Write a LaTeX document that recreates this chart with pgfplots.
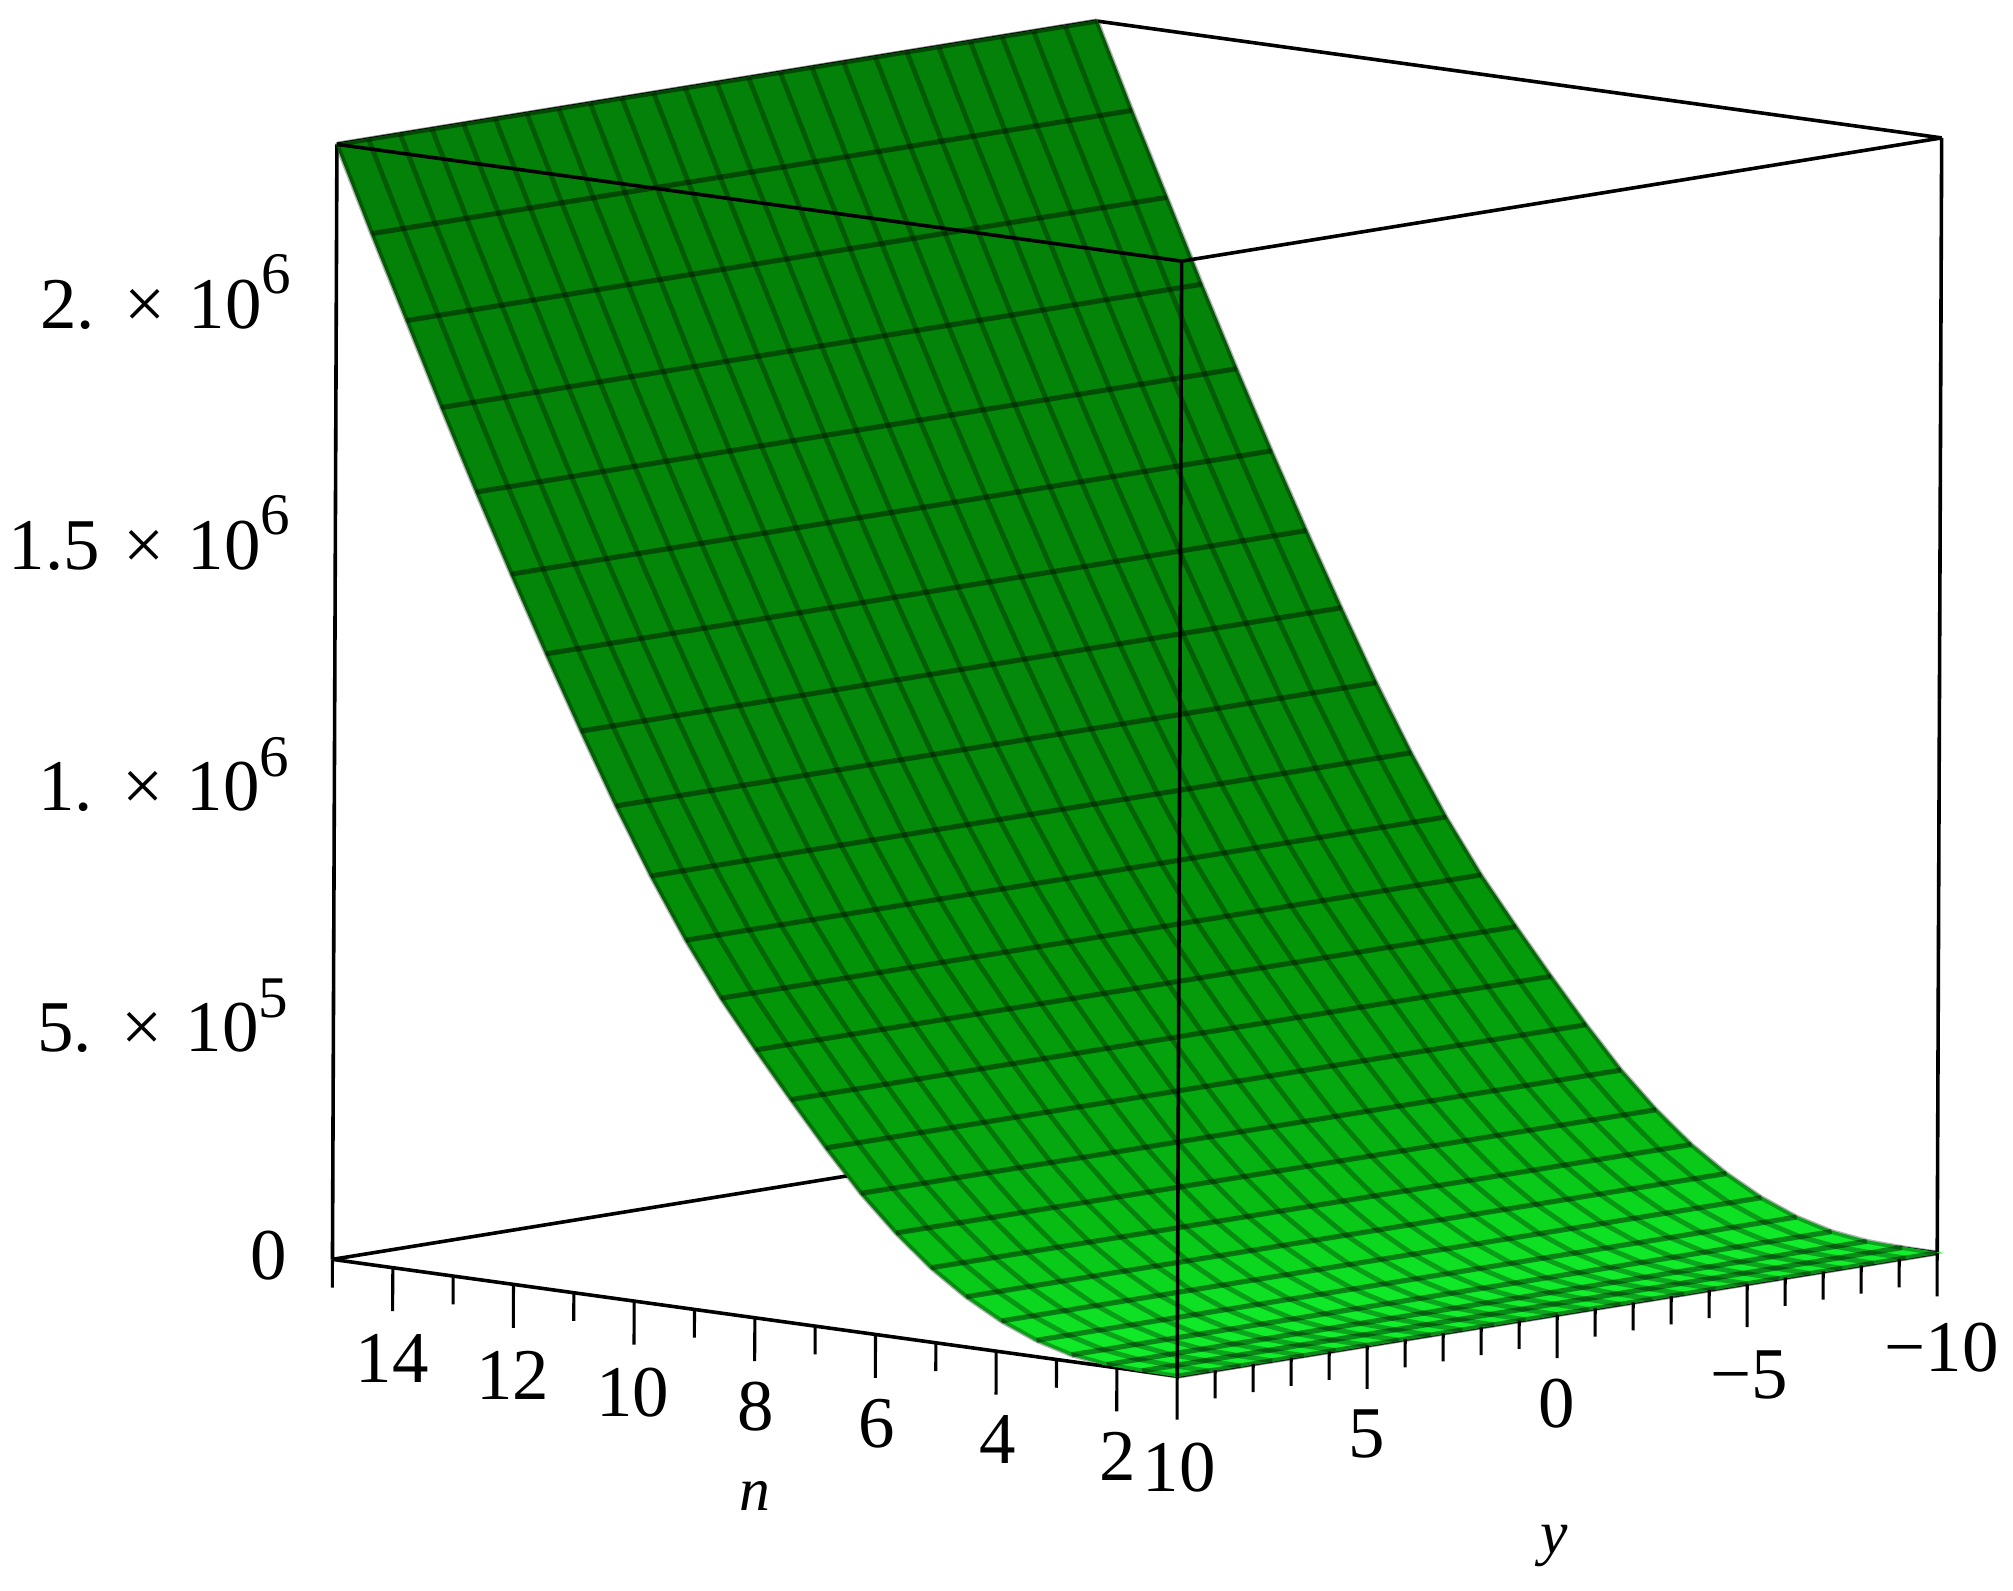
\documentclass[border=0pt]{standalone}
\usepackage{fontspec}
\setmainfont{Liberation Serif}
\usepackage{pgfplots}
\pgfplotsset{compat=1.18}
\newcommand{\tl}[1]{{\fontsize{14.2}{14.2}\selectfont #1}}
\newcommand{\zl}[2]{{\fontsize{14.2}{14.2}\selectfont #1\hspace{1pt} × \hspace{1pt}10\raisebox{6.75pt}{\fontsize{11.5}{11.5}\selectfont #2}}}
% one row of the surface: z (in millions) read at each n, repeated for every y line
\newcommand{\prof}[1]{%
1.000 #1 0.000\\ 1.583 #1 0.001\\ 2.167 #1 0.004\\ 2.750 #1 0.014\\ 3.333 #1 0.034\\
3.917 #1 0.064\\ 4.500 #1 0.104\\ 5.083 #1 0.154\\ 5.667 #1 0.216\\ 6.250 #1 0.288\\
6.833 #1 0.372\\ 7.417 #1 0.462\\ 8.000 #1 0.555\\ 8.583 #1 0.652\\ 9.167 #1 0.762\\
9.750 #1 0.885\\ 10.333 #1 1.020\\ 10.917 #1 1.165\\ 11.500 #1 1.315\\ 12.083 #1 1.470\\
12.667 #1 1.630\\ 13.250 #1 1.795\\ 13.833 #1 1.965\\ 14.417 #1 2.135\\ 15.000 #1 2.310\\}
\newcommand{\gaprow}{15 nan 2.31\\}
\newcommand{\ylist}[1]{#1{-10}#1{-9.167}#1{-8.333}#1{-7.5}#1{-6.667}#1{-5.833}#1{-5}#1{-4.167}#1{-3.333}#1{-2.5}#1{-1.667}#1{-0.833}#1{0}#1{0.833}#1{1.667}#1{2.5}#1{3.333}#1{4.167}#1{5}#1{5.833}#1{6.667}#1{7.5}#1{8.333}#1{9.167}#1{10}}
\newcommand{\profg}[1]{\prof{#1}\gaprow}
\edef\surfrows{\ylist{\prof}}
\edef\ylines{\ylist{\profg}}
\newcommand{\nl}[2]{#1 -10 #2\\ #1 10 #2\\ #1 nan #2\\}
\edef\nlines{\nl{1.000}{0.000}\nl{1.583}{0.001}\nl{2.167}{0.004}\nl{2.750}{0.014}\nl{3.333}{0.034}\nl{3.917}{0.064}\nl{4.500}{0.104}\nl{5.083}{0.154}\nl{5.667}{0.216}\nl{6.250}{0.288}\nl{6.833}{0.372}\nl{7.417}{0.462}\nl{8.000}{0.555}\nl{8.583}{0.652}\nl{9.167}{0.762}\nl{9.750}{0.885}\nl{10.333}{1.020}\nl{10.917}{1.165}\nl{11.500}{1.315}\nl{12.083}{1.470}\nl{12.667}{1.630}\nl{13.250}{1.795}\nl{13.833}{1.965}\nl{14.417}{2.135}\nl{15.000}{2.310}}
\begin{document}
\begin{tikzpicture}
\path[use as bounding box] (0,0) rectangle (392pt,309.75pt);
\begin{axis}[
  at={(303.25pt,53.75pt)},anchor=origin,
  x={(-11.75pt,1.625pt)},y={(-7.4pt,-1.2pt)},z={(0.375pt,94pt)},
  xmin=1,xmax=15,ymin=-10,ymax=10,zmin=0,zmax=2.31,
  3d box=complete,
  clip=false,
  axis line style={black,line width=0.7pt},
  tick style={draw=none},major tick length=0pt,minor tick length=0pt,
  xtick={2,4,...,14},xticklabels={\tl{2},\tl{4},\tl{6},\tl{8},\tl{10},\tl{12},\tl{14}},
  ytick={-10,-5,0,5,10},yticklabels={\tl{−10},\tl{−5},\tl{0},\tl{5},\tl{10}},
  ztick={0,0.5,1,1.5,2},zticklabels={\tl{0},\zl{5.}{5},\zl{1.}{6},\zl{1.5}{6},\zl{2.}{6}},
  xticklabel style={xshift=7.25pt,yshift=-9pt},
  yticklabel style={xshift=-7.25pt,yshift=-9pt},
  zticklabel style={xshift=-5.25pt,yshift=0.75pt},
  xlabel={\fontsize{12}{12}\selectfont\textit{n}},ylabel={\fontsize{12}{12}\selectfont\textit{y}},
  x label style={xshift=22.75pt,yshift=-8pt},
  y label style={xshift=-26.75pt,yshift=-14.75pt},
  colormap={gr}{rgb255(0pt)=(18,240,45) rgb255(5pt)=(14,225,35) rgb255(15pt)=(8,195,22) rgb255(30pt)=(5,170,15) rgb255(60pt)=(3,150,8) rgb255(100pt)=(4,138,10) rgb255(232pt)=(4,128,8)},
  unbounded coords=jump,
]
\edef\doplot{\noexpand\addplot3[surf,shader=flat,mesh/rows=25,mesh/cols=25,z buffer=none] table[row sep=\noexpand\\] {x y z\noexpand\\ \surfrows};
\noexpand\addplot3[black,opacity=0.3,line width=0.95pt,forget plot] table[row sep=\noexpand\\] {x y z\noexpand\\ \ylines};
\noexpand\addplot3[black,opacity=0.42,line width=1pt,forget plot] table[row sep=\noexpand\\] {x y z\noexpand\\ \nlines};}
\doplot
\addplot3[black,line width=0.6pt,forget plot] coordinates {
(15,10,-0.0585)(15,10,0)(15,10,nan)
(14,10,0)(14,10,-0.09)(14,10,nan)(13,10,0)(13,10,-0.0585)(13,10,nan)
(12,10,0)(12,10,-0.09)(12,10,nan)(11,10,0)(11,10,-0.0585)(11,10,nan)
(10,10,0)(10,10,-0.09)(10,10,nan)(9,10,0)(9,10,-0.0585)(9,10,nan)
(8,10,0)(8,10,-0.09)(8,10,nan)(7,10,0)(7,10,-0.0585)(7,10,nan)
(6,10,0)(6,10,-0.09)(6,10,nan)(5,10,0)(5,10,-0.0585)(5,10,nan)
(4,10,0)(4,10,-0.09)(4,10,nan)(3,10,0)(3,10,-0.0585)(3,10,nan)
(2,10,0)(2,10,-0.09)(2,10,nan)(1,10,0)(1,10,-0.09)(1,10,nan)
(1,9,0)(1,9,-0.0585)(1,9,nan)(1,8,0)(1,8,-0.0585)(1,8,nan)(1,7,0)(1,7,-0.0585)(1,7,nan)(1,6,0)(1,6,-0.0585)(1,6,nan)
(1,5,0)(1,5,-0.09)(1,5,nan)
(1,4,0)(1,4,-0.0585)(1,4,nan)(1,3,0)(1,3,-0.0585)(1,3,nan)(1,2,0)(1,2,-0.0585)(1,2,nan)(1,1,0)(1,1,-0.0585)(1,1,nan)
(1,0,0)(1,0,-0.09)(1,0,nan)
(1,-1,0)(1,-1,-0.0585)(1,-1,nan)(1,-2,0)(1,-2,-0.0585)(1,-2,nan)(1,-3,0)(1,-3,-0.0585)(1,-3,nan)(1,-4,0)(1,-4,-0.0585)(1,-4,nan)
(1,-5,0)(1,-5,-0.09)(1,-5,nan)
(1,-6,0)(1,-6,-0.0585)(1,-6,nan)(1,-7,0)(1,-7,-0.0585)(1,-7,nan)(1,-8,0)(1,-8,-0.0585)(1,-8,nan)(1,-9,0)(1,-9,-0.0585)(1,-9,nan)
(1,-10,0)(1,-10,-0.09)
};
\end{axis}
\end{tikzpicture}
\end{document}
